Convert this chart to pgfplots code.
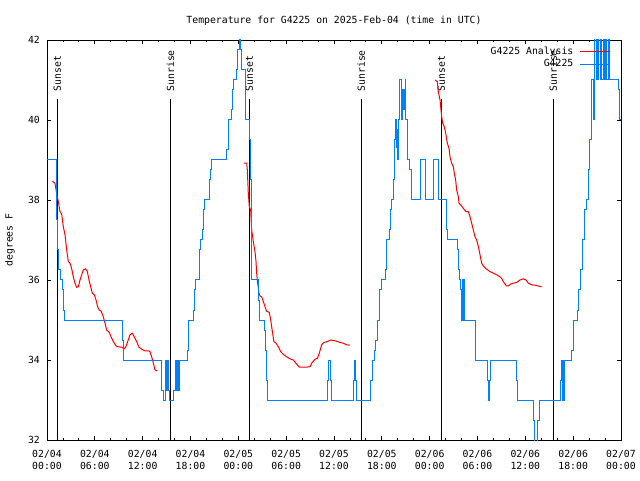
\documentclass[border=0pt]{standalone}
\usepackage{fontspec}
\setmainfont{DejaVu Sans Mono}
\usepackage{pgfplots}
\pgfplotsset{compat=1.18}
\definecolor{gblue}{RGB}{0,128,255}
\definecolor{gred}{RGB}{255,0,0}
\newcommand{\gfont}{\fontsize{9.8}{11.7}\selectfont}
\begin{document}
\gfont
\begin{tikzpicture}
\begin{axis}[
  at={(0pt,0pt)}, anchor=south west, scale only axis,
  width=574pt, height=400pt,
  xmin=0, xmax=72, ymin=32, ymax=42,
  xtick={0,6,...,72}, minor xtick={0,2,...,72},
  xticklabels={{02/04\\00:00},{02/04\\06:00},{02/04\\12:00},{02/04\\18:00},{02/05\\00:00},{02/05\\06:00},{02/05\\12:00},{02/05\\18:00},{02/06\\00:00},{02/06\\06:00},{02/06\\12:00},{02/06\\18:00},{02/07\\00:00}},
  ytick={32,34,...,42},
  tick align=inside, xtick pos=both, ytick pos=both,
  xticklabel pos=bottom, yticklabel pos=left,
  major tick length=4pt, minor tick length=2pt,
  axis line style={black, line width=0.8pt},
  every tick/.style={black, line width=0.8pt},
  /pgf/number format/assume math mode=true,
  tick label style={font=\gfont},
  xticklabel style={align=center, yshift=-7pt},
  yticklabel style={xshift=-3.7pt},
  title={Temperature for G4225 on 2025-Feb-04 (time in UTC)},
  title style={at={(axis description cs:0.5,1)}, anchor=base, yshift=10.5pt, font=\gfont},
  ylabel={degrees F},
  ylabel style={at={([xshift=-37pt]axis description cs:0,0.5)}, anchor=center, font=\gfont},
  legend style={draw=none, fill=none, at={(axis description cs:0.9826,1)}, anchor=north east,
    yshift=-7pt, inner sep=0pt, row sep=2.7pt, font=\gfont,
    nodes={inner sep=0pt, text height=7.3pt, text depth=2.3pt},
    /tikz/every odd column/.append style={column sep=6.5pt}},
  legend cell align=right, legend plot pos=right,
  legend image code/.code={\draw[#1] (0pt,0pt) -- (30pt,0pt);},
]
% sunset / sunrise markers
\addplot[black, line width=0.8pt, forget plot] coordinates {(1.30,32) (1.30,40.525)};
\addplot[black, line width=0.8pt, forget plot] coordinates {(15.49,32) (15.49,40.525)};
\addplot[black, line width=0.8pt, forget plot] coordinates {(25.38,32) (25.38,40.525)};
\addplot[black, line width=0.8pt, forget plot] coordinates {(39.41,32) (39.41,40.525)};
\addplot[black, line width=0.8pt, forget plot] coordinates {(49.46,32) (49.46,40.525)};
\addplot[black, line width=0.8pt, forget plot] coordinates {(63.51,32) (63.51,40.525)};
\node[rotate=90, anchor=west, inner sep=0pt, font=\gfont] at (axis cs:1.30,40.71) {Sunset};
\node[rotate=90, anchor=west, inner sep=0pt, font=\gfont] at (axis cs:15.49,40.71) {Sunrise};
\node[rotate=90, anchor=west, inner sep=0pt, font=\gfont] at (axis cs:25.38,40.71) {Sunset};
\node[rotate=90, anchor=west, inner sep=0pt, font=\gfont] at (axis cs:39.41,40.71) {Sunrise};
\node[rotate=90, anchor=west, inner sep=0pt, font=\gfont] at (axis cs:49.46,40.71) {Sunset};
\node[rotate=90, anchor=west, inner sep=0pt, font=\gfont] at (axis cs:63.51,40.71) {Sunrise};

% G4225 Analysis
\addplot[gred, line width=1pt] coordinates {
(0.67,38.47)(1.00,38.42)(1.21,38.17)(1.42,37.96)(1.63,37.71)(1.84,37.65)(2.05,37.33)(2.26,37.13)(2.47,36.75)(2.68,36.46)(2.89,36.42)(3.09,36.29)(3.30,36.08)(3.51,35.92)(3.72,35.82)(3.93,35.83)(4.14,36.0)(4.35,36.13)(4.56,36.25)(4.85,36.28)(5.06,36.21)(5.27,36.0)(5.48,35.83)(5.69,35.67)(5.94,35.63)(6.15,35.5)(6.36,35.33)(6.56,35.25)(6.77,35.23)(6.98,35.13)(7.28,34.92)(7.48,34.75)(7.82,34.69)(8.03,34.58)(8.32,34.46)(8.66,34.35)(8.95,34.33)(9.37,34.32)(9.66,34.28)(9.87,34.32)(10.12,34.46)(10.41,34.63)(10.70,34.67)(10.95,34.58)(11.25,34.46)(11.54,34.32)(11.88,34.27)(12.29,34.23)(12.71,34.23)(12.92,34.21)(13.13,34.08)(13.34,33.92)(13.55,33.75)(13.84,33.73)
};
\addlegendentry{G4225 Analysis}
\addplot[gred, line width=1pt, forget plot] coordinates {
(24.71,38.92)(25.05,38.92)(25.13,38.75)(25.25,38.17)(25.38,37.83)(25.55,37.75)(25.67,37.25)(25.80,37.08)(25.88,36.96)(26.09,36.71)(26.22,36.46)(26.30,36.17)(26.38,36.0)(26.59,35.67)(26.72,35.6)(26.93,35.58)(27.14,35.46)(27.35,35.33)(27.55,35.22)(27.89,35.19)(28.06,35.0)(28.27,34.71)(28.47,34.46)(28.73,34.42)(29.02,34.33)(29.31,34.21)(29.65,34.14)(30.06,34.08)(30.48,34.03)(30.90,34.0)(31.23,33.92)(31.65,33.82)(32.36,33.82)(32.99,33.83)(33.20,33.92)(33.62,34.02)(33.91,34.04)(34.16,34.17)(34.45,34.38)(34.75,34.44)(35.16,34.46)(35.58,34.5)(36.13,34.48)(36.75,34.44)(37.17,34.42)(37.59,34.38)(38.01,34.37)
};
\addplot[gred, line width=1pt, forget plot] coordinates {
(48.67,41.0)(48.96,40.96)(49.09,40.7)(49.30,40.5)(49.51,40.08)(49.63,39.92)(49.84,39.83)(50.01,39.67)(50.22,39.42)(50.43,39.29)(50.55,39.08)(50.76,38.92)(50.97,38.83)(51.09,38.67)(51.26,38.5)(51.39,38.25)(51.60,38.08)(51.68,37.92)(51.89,37.88)(52.22,37.79)(52.56,37.71)(52.85,37.71)(53.06,37.58)(53.27,37.42)(53.48,37.25)(53.69,37.08)(53.90,37.0)(54.11,36.83)(54.32,36.63)(54.52,36.42)(54.73,36.35)(55.15,36.27)(55.57,36.21)(55.99,36.17)(56.41,36.13)(56.82,36.08)(57.03,36.04)(57.24,35.96)(57.45,35.9)(57.66,35.85)(57.87,35.85)(58.16,35.9)(58.50,35.92)(58.91,35.94)(59.33,36.0)(59.75,36.03)(60.09,36.0)(60.38,35.92)(60.80,35.88)(61.21,35.87)(61.63,35.85)(62.05,35.83)
};

% G4225 observations
\addplot[gblue, line width=1pt, const plot] coordinates {
(0,39)
(1.13,38.5)(1.25,37.5)(1.35,36.75)(1.5,36.25)(1.7,36.0)(1.95,35.75)(2.05,35.25)(2.17,35.0)
(9.45,34.5)(9.57,34.0)
(14.30,33.25)(14.59,33.0)(14.84,34.0)(14.93,33.25)(15.09,34.0)(15.22,33.25)(15.35,33.0)(15.93,33.25)(16.10,34.0)(16.27,33.25)(16.39,34.0)(16.45,33.25)(16.60,34.0)
(17.60,34.25)(17.81,35.0)(18.35,35.25)(18.48,35.75)(18.64,36.0)(19.10,36.25)(19.19,36.75)(19.31,37.0)(19.52,37.25)(19.61,37.75)(19.73,38.0)(20.36,38.5)(20.53,38.75)(20.66,39.0)
(22.54,39.25)(22.75,40.0)(23.16,40.25)(23.29,40.75)(23.37,41.0)(23.71,41.25)(23.87,41.75)(24.13,42.5)(24.29,41.75)(24.42,41.25)(24.84,41.0)(24.92,40.0)(25.46,39.5)(25.55,38.5)(25.62,37.0)(25.70,36.0)(26.51,35.5)(26.63,35.0)(27.26,34.75)(27.43,34.25)(27.55,33.5)(27.63,33.0)
(35.16,33.5)(35.33,34.0)(35.50,33.5)(35.66,33.0)
(38.43,33.5)(38.55,34.0)(38.72,33.5)(38.84,33.0)
(40.64,33.5)(40.85,34.0)(41.06,34.25)(41.23,34.5)(41.44,35.0)(41.69,35.75)(41.90,36.0)(42.40,36.25)(42.61,37.0)(42.94,37.25)(43.11,37.75)(43.24,38.0)(43.44,38.5)(43.57,39.5)(43.74,40.0)(43.78,39.3)(43.86,39.75)(43.95,39.0)(44.07,40.0)(44.20,41.0)(44.49,40.0)(44.62,40.75)(44.70,40.25)(44.82,40.75)(44.91,41.0)(44.99,40.0)(45.24,39.0)(45.53,38.75)(45.66,38.0)
(46.79,39.0)(47.54,38.0)(48.46,39.0)(49.09,38.0)
(50.05,37.75)(50.13,37.25)(50.22,37.0)(51.47,36.75)(51.60,36.25)(51.72,36.0)(51.93,35.75)(52.02,35.0)(52.10,36.0)(52.22,35.0)(52.30,36.0)(52.43,35.0)
(53.69,34.0)(55.28,33.5)(55.35,33.0)(55.50,33.5)(55.60,34.0)(58.91,33.5)(59.00,33.0)(61.00,32.5)(61.21,31.5)(61.51,32.5)(61.76,33.0)
(64.40,33.5)(64.50,34.0)(64.60,33.0)(64.70,34.0)(64.80,33.0)(64.95,34.0)
(65.81,34.25)(66.02,35.0)(66.52,35.25)(66.73,35.75)(66.94,36.25)(67.15,37.0)(67.40,37.75)(67.70,38.0)(67.90,38.75)(68.11,39.5)(68.32,41.0)(68.53,40.0)(68.66,42.5)(68.87,41.0)(68.95,42.5)(69.04,41.0)(69.16,42.5)(69.37,41.0)(69.45,42.5)(69.58,41.0)(69.79,42.5)(69.91,41.0)(70.0,42.5)(70.12,41.0)(70.41,42.5)(70.62,41.0)(71.67,40.75)(71.79,40.0)(72.0,40.0)
};
\addlegendentry{G4225}
\end{axis}
\pgfresetboundingbox
\useasboundingbox (-47pt,-40pt) rectangle (593pt,440pt);
\end{tikzpicture}
\end{document}
